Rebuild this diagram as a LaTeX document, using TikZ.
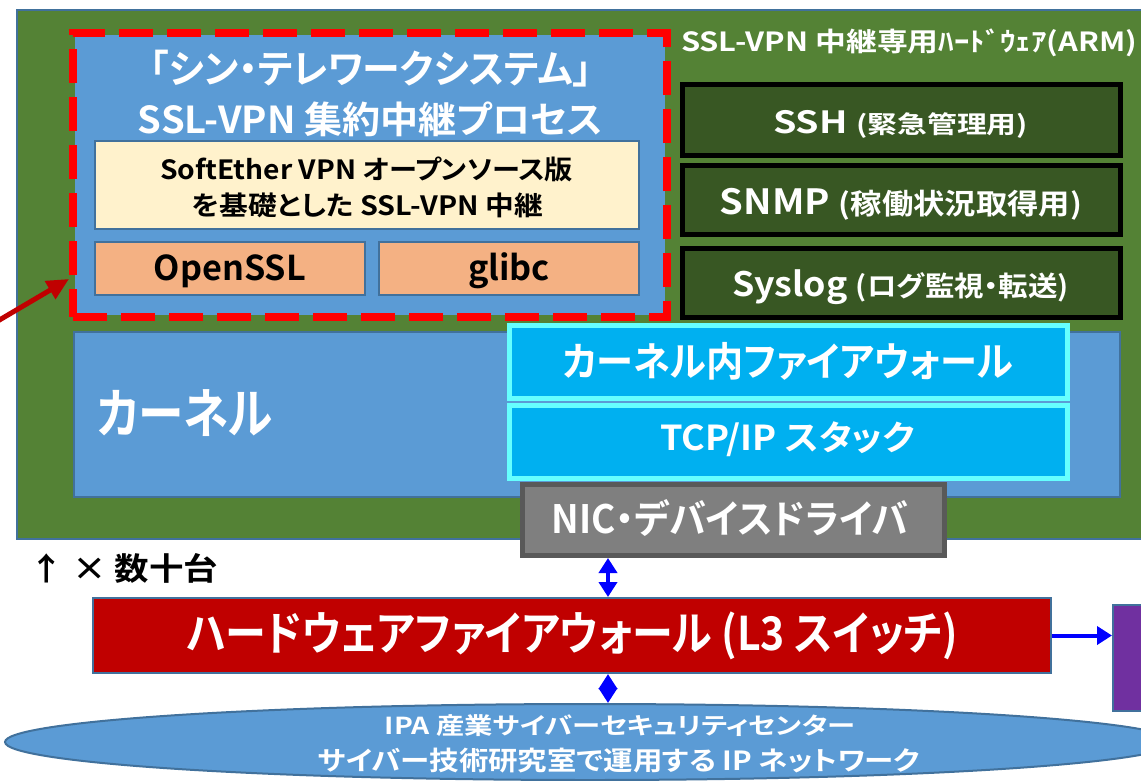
\documentclass[tikz,border=0pt]{standalone}
\usepackage{fontspec}
\setmainfont{Noto Sans CJK JP}[RawFeature=+palt, BoldFont=* Bold]
\usepackage{graphicx}
\usetikzlibrary{arrows.meta,shapes.geometric}
\definecolor{grn}{HTML}{548235}
\definecolor{bord}{HTML}{41719C}
\definecolor{pblue}{HTML}{5B9BD5}
\definecolor{cream}{HTML}{FFF2CC}
\definecolor{orng}{HTML}{F4B183}
\definecolor{dgrn}{HTML}{385723}
\definecolor{cyanf}{HTML}{00B0F0}
\definecolor{cyanb}{HTML}{66FFFF}
\definecolor{gryf}{HTML}{7F7F7F}
\definecolor{gryb}{HTML}{595959}
\definecolor{dred}{HTML}{C00000}
\definecolor{purp}{HTML}{7030A0}
\definecolor{arrblue}{HTML}{0000FF}
\newcommand\fitwh[3]{\resizebox*{#1pt}{#2pt}{#3}}
\newcommand\fitw[2]{\resizebox{#1pt}{!}{#2}}
\begin{document}
\begin{tikzpicture}[x=1pt,y=-1pt,
  every node/.style={inner sep=0pt},
  boxb/.style={draw=bord, line width=2pt},
  svcbox/.style={draw=black, fill=dgrn, line width=5pt, minimum width=438pt, minimum height=69pt},
  kbox/.style={draw=cyanb, fill=cyanf, line width=5pt, minimum width=558pt, minimum height=73pt},
  wtxt/.style={text=white, font=\fontsize{30pt}{36pt}\selectfont\bfseries},
  ktxt/.style={text=black, font=\fontsize{30pt}{36pt}\selectfont\bfseries},
  barrow/.style={draw=arrblue, line width=4pt, {Triangle[length=15pt,width=18pt]}-{Triangle[length=15pt,width=18pt]}},
  rarrow/.style={draw=arrblue, line width=4pt, -{Triangle[length=15pt,width=18pt]}},
  redarrow/.style={draw=dred, line width=5pt, -{Triangle[length=22pt,width=20pt]}}
]
\useasboundingbox (0,0) rectangle (1141,780);
\fill[white] (0,0) rectangle (1141,780);

% hardware container
\node[draw=bord, fill=grn, line width=1.5pt, minimum width=1133pt, minimum height=529pt] (hw) at (583.5,274.5) {};
\node[wtxt, anchor=center] (hwt) at (909,43) {\fitwh{456}{28}{SSL-VPN 中継専用ﾊｰﾄﾞｳｪｱ(ARM)}};

% process box
\node[fill=pblue, minimum width=590pt, minimum height=280pt] (procbg) at (370,175) {};
\node[draw=red, line width=8pt, dash pattern=on 34pt off 14pt, minimum width=594pt, minimum height=284pt] (proc) at (370,175) {};
\node[wtxt] (t1) at (371,68.5) {\fitwh{442}{37}{「シン・テレワークシステム」}};
\node[wtxt] (t2) at (370.5,119.5) {\fitwh{465}{35}{SSL-VPN 集約中継プロセス}};

\node[boxb, fill=cream, minimum width=544pt, minimum height=88pt] (cream) at (367,185) {};
\node[ktxt] (c1) at (366.5,169) {\fitwh{413}{25}{SoftEther VPN オープンソース版}};
\node[ktxt] (c2) at (367.5,205.5) {\fitwh{351}{25}{を基礎とした SSL-VPN 中継}};

\node[boxb, fill=orng, minimum width=270pt, minimum height=53pt] (ossl) at (230,268.5) {};
\node[boxb, fill=orng, minimum width=260pt, minimum height=53pt] (glibc) at (509,268.5) {};
\node[ktxt] (osslt) at (230,271) {\fitw{152}{OpenSSL}};
\node[ktxt] (glibct) at (509,271) {\fitw{82}{glibc}};

% service boxes
\node[svcbox, minimum height=71pt] (ssh) at (901,119.5) {};
\node[svcbox] (snmp) at (901,199.5) {};
\node[svcbox] (syslog) at (901,282.5) {};
\node[wtxt] (ssht) at (900.5,124) {\fitwh{255}{28}{{\fontsize{34pt}{34pt}\selectfont SSH }{\fontsize{27pt}{27pt}\selectfont (緊急管理用)}}};
\node[wtxt] (snmpt) at (901,204) {\fitwh{362}{32}{{\fontsize{34pt}{34pt}\selectfont SNMP }{\fontsize{28pt}{28pt}\selectfont (稼働状況取得用)}}};
\node[wtxt] (syslogt) at (900.5,287.5) {\fitwh{337}{35}{{\fontsize{34pt}{34pt}\selectfont Syslog }{\fontsize{28pt}{28pt}\selectfont (ログ監視・転送)}}};

% kernel
\node[boxb, fill=pblue, minimum width=1046pt, minimum height=165pt] (kernel) at (597,414.5) {};
\node[wtxt] (kernelt) at (185,413) {\fitwh{176}{47}{カーネル}};
\node[kbox] (kfw) at (788.5,362) {};
\node[kbox] (tcp) at (788.5,442) {};
\node[wtxt] (kfwt) at (788,361) {\fitwh{450}{38}{カーネル内ファイアウォール}};
\node[wtxt] (tcpt) at (787.5,439.5) {\fitwh{255}{35}{TCP/IP スタック}};

\node[draw=gryb, fill=gryf, line width=5pt, minimum width=422pt, minimum height=71pt] (nic) at (733.5,520) {};
\node[wtxt] (nict) at (730,518.5) {\fitwh{356}{37}{NIC・デバイスドライバ}};

% count
\node[ktxt] (cnt) at (124,568) {\fitwh{188}{30}{↑ × 数十台}};

% hardware firewall
\node[boxb, fill=dred, minimum width=958pt, minimum height=75pt] (hwfw) at (572,635.5) {};
\node[wtxt] (hwfwt) at (572.5,636) {\fitwh{771}{48}{ハードウェアファイアウォール (L3 スイッチ)}};
\node[boxb, fill=purp, minimum width=57pt, minimum height=106pt] (purple) at (1141.5,658) {};

% network ellipse
\node[ellipse, boxb, fill=pblue, minimum width=1170pt, minimum height=76pt] (net) at (590,742) {};
\node[wtxt] (n1) at (620,726) {\fitwh{470}{22}{IPA 産業サイバーセキュリティセンター}};
\node[wtxt] (n2) at (619,760.5) {\fitwh{602}{25}{サイバー技術研究室で運用する IP ネットワーク}};

% connectors
\coordinate (ax) at (608,0);
\draw[barrow] (ax |- nic.south) -- (ax |- hwfw.north);
\draw[barrow] (ax |- hwfw.south) -- (ax |- net.north);
\draw[rarrow] (hwfw.east) -- (hwfw.east -| purple.west);
\coordinate (rs) at (-4,322);
\coordinate (rt) at (0,279);
\draw[redarrow] (rs) -- (proc.west |- rt);
\end{tikzpicture}
\end{document}
